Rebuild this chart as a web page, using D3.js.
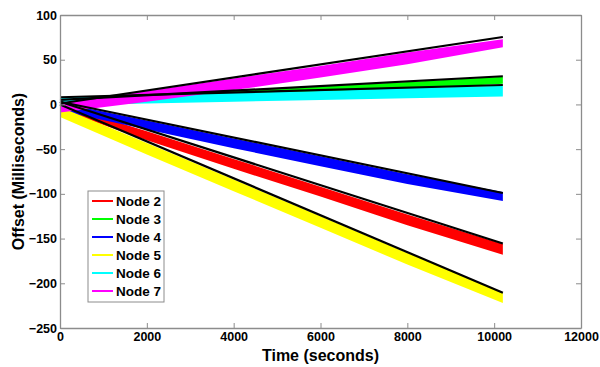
<!DOCTYPE html>
<html><head><meta charset="utf-8">
<script src="https://cdn.jsdelivr.net/npm/d3@7"></script>
<style>body{margin:0;background:#fff}svg{display:block}text{font-family:"Liberation Sans",Arial,sans-serif;font-weight:bold}</style>
</head><body><svg id="c" width="600" height="367"></svg>
<script>
// ---- data ----
const nodes = ["Node 2","Node 3","Node 4","Node 5","Node 6","Node 7"];
const colors = ["#ff0000","#00ff00","#0000ff","#ffff00","#00ffff","#ff00ff"];
const times = [0, 2000, 4000, 6000, 8000, 10200];
// scatter band upper / lower edges per node (ms)
const bandUpper = [
  [0, -30, -61, -92, -123, -156],
  [3, 9, 15, 20, 25, 31],
  [2, -18, -38, -58, -78, -98],
  [-3, -43, -84, -125, -166, -210],
  [8, 10, 13, 15, 18, 21],
  [2, 15, 29, 43, 58, 73]
];
const bandLower = [
  [-6, -40, -72, -103, -135, -168],
  [-3, 2, 7, 12, 17, 23],
  [-7, -28, -49, -69, -89, -108],
  [-14, -56, -97, -138, -179, -222],
  [0, 1, 3, 5, 7, 9],
  [-9, 3, 16, 30, 45, 64]
];
// linear fit lines: [offset at start, offset at end]
const fitTimes = [0, 10200];
const fitValues = [
  [3, -155.5],
  [5, 31.5],
  [3, -99],
  [0, -210.6],
  [8, 21.7],
  [1, 75.4]
];
const xTicks = [0, 2000, 4000, 6000, 8000, 10000, 12000];
const yTicks = [-250, -200, -150, -100, -50, 0, 50, 100];

// ---- drawing ----
const svg = d3.select("#c");
const L = 60, R = 581, T = 15, B = 328;
const x = d3.scaleLinear().domain([0, 12000]).range([L, R]);
const y = d3.scaleLinear().domain([-250, 100]).range([B, T]);

const plot = svg.append("g");
nodes.forEach((n, i) => {
  const pts = times.map((t, j) => ({t, u: bandUpper[i][j], l: bandLower[i][j]}));
  plot.append("path").datum(pts)
    .attr("fill", colors[i])
    .attr("d", d3.area().x(d => x(d.t)).y0(d => y(d.l)).y1(d => y(d.u)));
});
nodes.forEach((n, i) => {
  plot.append("path").datum(fitTimes.map((t, j) => [t, fitValues[i][j]]))
    .attr("fill", "none").attr("stroke", "#000").attr("stroke-width", 2.2)
    .attr("d", d3.line().x(d => x(d[0])).y(d => y(d[1])));
});

const axColor = "#8c8c8c";
const gx = svg.append("g").attr("transform", `translate(0,${B})`)
  .call(d3.axisBottom(x).tickValues(xTicks).tickFormat(d3.format("d")).tickSizeInner(-5).tickSizeOuter(0).tickPadding(4));
const gxt = svg.append("g").attr("transform", `translate(0,${T})`)
  .call(d3.axisTop(x).tickValues(xTicks).tickFormat("").tickSizeInner(-5).tickSizeOuter(0));
const gy = svg.append("g").attr("transform", `translate(${L},0)`)
  .call(d3.axisLeft(y).tickValues(yTicks).tickFormat(d3.format("d")).tickSizeInner(-5).tickSizeOuter(0).tickPadding(3));
const gyr = svg.append("g").attr("transform", `translate(${R},0)`)
  .call(d3.axisRight(y).tickValues(yTicks).tickFormat("").tickSizeInner(-5).tickSizeOuter(0));
[gx, gxt, gy, gyr].forEach(g => {
  g.select(".domain").attr("stroke", axColor).attr("stroke-width", 1.3);
  g.selectAll(".tick line").attr("stroke", axColor);
  g.selectAll(".tick text").attr("fill", "#000").style("font-size", "12.5px")
    .style("font-family", "'Liberation Sans',Arial,sans-serif").style("font-weight", "bold");
});

svg.append("text").attr("x", (L + R) / 2).attr("y", 361).attr("text-anchor", "middle")
  .style("font-size", "16px").text("Time (seconds)");
svg.append("text").attr("transform", `translate(24,${(T + B) / 2}) rotate(-90)`)
  .attr("text-anchor", "middle").style("font-size", "16px").text("Offset (Milliseconds)");

// legend
const lg = svg.append("g");
const lx = 88, ly = 191, lw = 76, lh = 111;
lg.append("rect").attr("x", lx).attr("y", ly).attr("width", lw).attr("height", lh)
  .attr("fill", "#fff").attr("stroke", "#8c8c8c").attr("stroke-width", 1);
nodes.forEach((n, i) => {
  const yy = ly + 10 + i * 18;
  lg.append("line").attr("x1", lx + 4).attr("x2", lx + 25).attr("y1", yy).attr("y2", yy)
    .attr("stroke", colors[i]).attr("stroke-width", 2);
  lg.append("text").attr("x", lx + 28).attr("y", yy + 5).style("font-size", "13.5px").text(n);
});
</script></body></html>
